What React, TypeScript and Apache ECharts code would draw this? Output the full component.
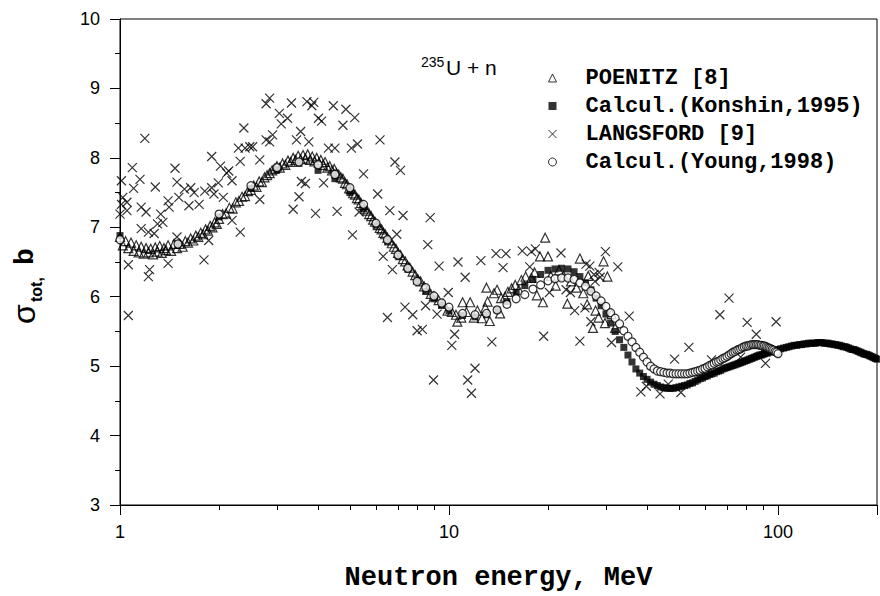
import { useEffect, useRef } from 'react';
import * as echarts from 'echarts';

// ---------- data ----------
const xLabelValues = [1, 10, 100];
const xMinorTicks = [2, 3, 4, 5, 6, 7, 8, 9, 20, 30, 40, 50, 60, 70, 80, 90, 200];

const konshinEnergy = [
  1, 1.5, 2, 2.5, 3, 3.5, 4, 4.5, 5, 5.5, 6, 6.5, 7, 7.5, 8, 8.5, 9, 9.5, 10,
  11, 12, 13, 14, 15, 16, 17, 18, 19, 20,
  21, 22, 23, 24, 25, 26, 27, 28, 29, 30,
  31, 32, 33, 34, 35, 36, 37, 38, 39, 40,
  41, 42, 43, 44, 45, 46, 47, 48, 49, 50,
  51, 52, 53, 54, 55, 56, 57, 58, 59, 60,
  61, 62, 63, 64, 65, 66, 67, 68, 69, 70,
  71, 72, 73, 74, 75, 76, 77, 78, 79, 80,
  81, 82, 83, 84, 85, 86, 87, 88, 89, 90,
  91, 92, 93, 94, 95, 96, 97, 98, 99, 100,
  102, 104, 106, 108, 110, 112, 114, 116, 118, 120,
  122, 124, 126, 128, 130, 132, 134, 136, 138, 140,
  142, 144, 146, 148, 150, 152, 154, 156, 158, 160,
  162, 164, 166, 168, 170, 172, 174, 176, 178, 180,
  182, 184, 186, 188, 190, 192, 194, 196, 198, 200,
];
const konshinSigma = [
  6.88, 6.76, 7.15, 7.56, 7.83, 7.92, 7.82, 7.7, 7.5, 7.27, 7.03, 6.8, 6.59, 6.4, 6.23, 6.08, 5.97, 5.88, 5.8,
  5.73, 5.71, 5.74, 5.81, 5.93, 6.06, 6.16, 6.25, 6.32, 6.38,
  6.4, 6.41, 6.4, 6.36, 6.29, 6.2, 6.1, 5.98, 5.87, 5.75,
  5.62, 5.5, 5.38, 5.27, 5.16, 5.06, 4.96, 4.9, 4.85, 4.81,
  4.77, 4.74, 4.72, 4.7, 4.69, 4.68, 4.68, 4.68, 4.69, 4.7,
  4.71, 4.72, 4.73, 4.75, 4.76, 4.78, 4.8, 4.82, 4.83, 4.85,
  4.86, 4.88, 4.89, 4.9, 4.92, 4.93, 4.94, 4.96, 4.97, 4.98,
  4.99, 5.0, 5.01, 5.02, 5.03, 5.04, 5.05, 5.06, 5.07, 5.08,
  5.09, 5.1, 5.11, 5.12, 5.13, 5.14, 5.15, 5.16, 5.16, 5.17,
  5.18, 5.19, 5.19, 5.2, 5.21, 5.21, 5.22, 5.23, 5.23, 5.24,
  5.25, 5.26, 5.27, 5.28, 5.29, 5.3, 5.3, 5.31, 5.31, 5.32,
  5.32, 5.33, 5.33, 5.33, 5.33, 5.34, 5.34, 5.34, 5.33, 5.33,
  5.33, 5.32, 5.32, 5.31, 5.31, 5.3, 5.3, 5.29, 5.28, 5.28,
  5.27, 5.26, 5.25, 5.24, 5.24, 5.23, 5.22, 5.21, 5.2, 5.19,
  5.18, 5.17, 5.17, 5.16, 5.15, 5.14, 5.13, 5.12, 5.11, 5.1,
];

const youngEnergy = [
  1, 1.5, 2, 2.5, 3, 3.5, 4, 4.5, 5, 5.5, 6, 6.5, 7, 7.5, 8, 8.5, 9, 9.5, 10,
  11, 12, 13, 14, 15, 16, 17, 18, 19, 20,
  21, 22, 23, 24, 25, 26, 27, 28, 29, 30,
  31, 32, 33, 34, 35, 36, 37, 38, 39, 40,
  41, 42, 43, 44, 45, 46, 47, 48, 49, 50,
  51, 52, 53, 54, 55, 56, 57, 58, 59, 60,
  61, 62, 63, 64, 65, 66, 67, 68, 69, 70,
  71, 72, 73, 74, 75, 76, 77, 78, 79, 80,
  81, 82, 83, 84, 85, 86, 87, 88, 89, 90,
  91, 92, 93, 94, 95, 96, 97, 98, 99, 100,
];
const youngSigma = [
  6.82, 6.76, 7.19, 7.6, 7.86, 7.94, 7.9, 7.76, 7.57, 7.33, 7.06, 6.82, 6.6, 6.41, 6.22, 6.13, 6.01, 5.91, 5.85,
  5.76, 5.74, 5.76, 5.81, 5.89, 5.97, 6.03, 6.11, 6.17, 6.23,
  6.26, 6.27, 6.27, 6.25, 6.2, 6.15, 6.08, 6.01, 5.94, 5.86,
  5.77, 5.69, 5.61, 5.51, 5.43, 5.35, 5.27, 5.2, 5.13, 5.06,
  5.0, 4.96, 4.93, 4.92, 4.91, 4.9, 4.9, 4.89, 4.89, 4.89,
  4.89, 4.89, 4.89, 4.9, 4.91, 4.92, 4.93, 4.94, 4.96, 4.97,
  4.99, 5.01, 5.02, 5.04, 5.06, 5.07, 5.09, 5.11, 5.12, 5.14,
  5.16, 5.18, 5.2, 5.21, 5.23, 5.24, 5.25, 5.27, 5.28, 5.29,
  5.29, 5.3, 5.31, 5.31, 5.31, 5.31, 5.31, 5.3, 5.3, 5.29,
  5.29, 5.28, 5.27, 5.26, 5.25, 5.24, 5.23, 5.21, 5.2, 5.18,
];

const poenitzPoints: [number, number][] = [
  [1.0, 6.86], [1.02, 6.74], [1.04, 6.8], [1.06, 6.7], [1.08, 6.78], [1.1, 6.66], [1.12, 6.74], [1.14, 6.64],
  [1.16, 6.72], [1.18, 6.62], [1.2, 6.7], [1.22, 6.64], [1.24, 6.69], [1.26, 6.61], [1.28, 6.71], [1.3, 6.65],
  [1.32, 6.73], [1.34, 6.63], [1.36, 6.7], [1.38, 6.67], [1.4, 6.74], [1.43, 6.66], [1.46, 6.76], [1.49, 6.7],
  [1.52, 6.76], [1.55, 6.72], [1.58, 6.8], [1.61, 6.78], [1.64, 6.84], [1.67, 6.81], [1.7, 6.88], [1.73, 6.86],
  [1.76, 6.92], [1.79, 6.9], [1.82, 6.97], [1.85, 6.95], [1.88, 7.02], [1.91, 7.0], [1.94, 7.07], [1.97, 7.05],
  [2.0, 7.12], [2.05, 7.19], [2.1, 7.2], [2.15, 7.28], [2.2, 7.27], [2.25, 7.36], [2.3, 7.38], [2.35, 7.44],
  [2.4, 7.45], [2.45, 7.52], [2.5, 7.54], [2.55, 7.6], [2.6, 7.58], [2.65, 7.66], [2.7, 7.65], [2.75, 7.72],
  [2.8, 7.75], [2.85, 7.78], [2.9, 7.82], [2.95, 7.84], [3.0, 7.88], [3.06, 7.86], [3.12, 7.92], [3.18, 7.9],
  [3.24, 7.96], [3.3, 7.94], [3.36, 8.0], [3.42, 7.97], [3.48, 8.03], [3.54, 7.98], [3.6, 8.04], [3.66, 7.99],
  [3.72, 8.05], [3.78, 7.97], [3.84, 8.02], [3.9, 7.95], [3.96, 8.0], [4.02, 7.93], [4.08, 7.97], [4.14, 7.9],
  [4.2, 7.94], [4.27, 7.86], [4.34, 7.88], [4.41, 7.82], [4.48, 7.84], [4.55, 7.78], [4.62, 7.76], [4.69, 7.72],
  [4.76, 7.7], [4.83, 7.64], [4.9, 7.62], [4.97, 7.56], [5.04, 7.55], [5.11, 7.49], [5.18, 7.47], [5.25, 7.42],
  [5.32, 7.4], [5.4, 7.35], [5.48, 7.32], [5.56, 7.27], [5.64, 7.24], [5.72, 7.19], [5.8, 7.16], [5.88, 7.11],
  [5.96, 7.08], [6.08, 7.03], [6.16, 6.99], [6.24, 6.97], [6.32, 6.92], [6.4, 6.9], [6.5, 6.85], [6.6, 6.81],
  [6.7, 6.77], [6.8, 6.72], [6.9, 6.69], [7.0, 6.63], [7.12, 6.6], [7.24, 6.54], [7.36, 6.51], [7.48, 6.45],
  [7.6, 6.42], [7.75, 6.36], [7.9, 6.31], [8.05, 6.25], [8.2, 6.22], [8.4, 6.15], [8.6, 6.1], [8.8, 6.04],
  [9.0, 6.01], [9.3, 5.95], [9.6, 5.9], [9.9, 5.8], [10.2, 5.78], [10.5, 5.74], [10.6, 5.64], [10.9, 5.7],
  [11.0, 5.92], [11.3, 5.78], [11.6, 5.92], [11.9, 5.7], [12.2, 5.8], [12.6, 5.69], [12.9, 5.84], [13.0, 6.13],
  [13.1, 5.93], [13.3, 5.65], [13.7, 6.05], [14.0, 6.1], [14.3, 5.76], [14.4, 5.98], [14.8, 6.0], [15.1, 6.07],
  [15.5, 6.12], [15.9, 6.17], [16.3, 6.1], [16.6, 6.24], [17.1, 6.29], [17.8, 6.27], [18.2, 6.35], [18.5, 6.02],
  [18.9, 6.58], [19.3, 5.92], [19.6, 6.85], [20.0, 6.58], [20.4, 6.3], [21.1, 6.16], [21.6, 6.38], [22.3, 6.3],
  [22.9, 5.9], [23.5, 6.22], [24.4, 6.13], [25.0, 6.55], [25.6, 6.05], [26.3, 5.89], [26.5, 6.3], [27.4, 5.55],
  [27.9, 5.8], [28.5, 5.7], [29.5, 6.51], [29.8, 5.62], [30.3, 6.29], [31.2, 5.75], [32.0, 5.55],
];

const langsfordPoints: [number, number][] = [
  [1.0, 7.19], [1.01, 7.67], [1.02, 7.43], [1.01, 7.33], [1.05, 7.36], [1.05, 7.24], [1.06, 6.46], [1.06, 5.73],
  [1.09, 7.86], [1.1, 7.56], [1.15, 7.69], [1.16, 7.29], [1.16, 6.98], [1.19, 8.28], [1.2, 7.22], [1.22, 6.93],
  [1.22, 6.29], [1.23, 6.39], [1.27, 6.91], [1.28, 7.58], [1.3, 7.05], [1.33, 7.19], [1.35, 7.07], [1.4, 7.38],
  [1.4, 6.48], [1.41, 7.29], [1.47, 7.85], [1.49, 7.65], [1.49, 6.86], [1.51, 7.43], [1.57, 7.55], [1.62, 7.31],
  [1.64, 7.57], [1.68, 7.5], [1.74, 7.33], [1.8, 6.53], [1.81, 7.52], [1.86, 6.81], [1.9, 7.57], [1.9, 8.02],
  [1.93, 7.48], [1.99, 7.64], [2.02, 7.88], [2.06, 7.43], [2.11, 7.78], [2.14, 7.81], [2.19, 7.67], [2.19, 7.1],
  [2.29, 8.14], [2.32, 6.93], [2.32, 7.95], [2.38, 8.43], [2.4, 8.14], [2.48, 8.16], [2.53, 8.16], [2.66, 7.97],
  [2.66, 7.4], [2.78, 8.78], [2.85, 8.86], [2.78, 8.26], [2.85, 8.23], [2.91, 8.33], [3.05, 8.64], [3.09, 8.49],
  [3.23, 8.57], [3.32, 8.79], [3.36, 7.26], [3.44, 8.26], [3.5, 7.44], [3.54, 8.38], [3.56, 7.66], [3.66, 7.63],
  [3.7, 8.81], [3.75, 8.23], [3.83, 8.75], [3.88, 8.8], [3.93, 7.2], [4.01, 8.57], [4.1, 8.53], [4.16, 7.64],
  [4.3, 8.14], [4.45, 8.75], [4.5, 8.14], [4.57, 7.23], [4.76, 8.47], [4.86, 8.7], [5.05, 8.14], [5.09, 6.89],
  [5.17, 8.58], [5.27, 8.2], [5.33, 7.22], [5.5, 7.77], [6.07, 7.48], [6.17, 8.26], [6.31, 6.58], [6.5, 5.7],
  [6.61, 7.24], [6.73, 6.39], [6.85, 7.94], [6.94, 6.9], [7.12, 7.82], [7.25, 7.17], [7.35, 5.85], [7.76, 5.74],
  [8.0, 5.51], [8.3, 5.53], [8.49, 5.87], [8.62, 6.75], [8.77, 7.14], [8.97, 4.8], [9.2, 5.75], [9.33, 6.44],
  [9.95, 6.06], [10.2, 5.3], [10.4, 5.46], [10.65, 6.5], [11.2, 6.28], [11.4, 4.8], [11.7, 4.61], [12.0, 4.97],
  [12.5, 6.52], [13.5, 5.35], [13.9, 6.62], [14.6, 6.42], [14.9, 6.62], [16.7, 6.66], [17.6, 6.43], [17.8, 6.65],
  [18.3, 6.69], [19.4, 5.43], [20.2, 6.06], [21.9, 6.63], [22.7, 6.1], [23.4, 6.06], [24.1, 5.8], [25.0, 5.36],
  [25.9, 5.84], [26.1, 6.47], [26.8, 6.44], [27.0, 5.64], [27.6, 6.32], [27.8, 6.22], [28.6, 6.35], [28.8, 6.28],
  [29.9, 6.65], [31.2, 5.34], [32.6, 6.43], [35.3, 5.72], [38.3, 4.63], [39.8, 4.71], [43.8, 4.6], [46.4, 4.74],
  [48.5, 5.1], [50.7, 4.62], [53.6, 5.27], [62.8, 5.09], [66.6, 5.74], [71.0, 5.98], [77.0, 5.13], [80.6, 5.63],
  [85.9, 5.46], [91.6, 5.04], [98.7, 5.64],
];

const CROSS = 'path://M0,0L10,10M10,0L0,10';
const BLACK = '#000';

export default function App() {
  const ref = useRef<HTMLDivElement | null>(null);

  useEffect(() => {
    if (!ref.current) return;
    const chart = echarts.init(ref.current, undefined, { renderer: 'svg' });

    const konshinData = konshinEnergy.map((e, i) => [e, konshinSigma[i]]);
    const youngData = youngEnergy.map((e, i) => [e, youngSigma[i]]);

    const option: any = {
      animation: false,
      backgroundColor: '#fff',
      grid: {
        left: 120,
        top: 19,
        width: 768.5,
        height: 493,
        show: true,
        borderColor: BLACK,
        borderWidth: 1,
        backgroundColor: 'transparent',
      },
      legend: {
        orient: 'vertical',
        left: 543,
        top: 62,
        itemWidth: 8,
        itemHeight: 8,
        itemGap: 6,
        selectedMode: false,
        textStyle: {
          fontFamily: 'Liberation Mono',
          fontWeight: 'bold',
          fontSize: 22,
          color: BLACK,
          padding: [0, 0, 0, 24],
        },
        data: [
          { name: 'POENITZ [8]', icon: 'triangle', itemStyle: { color: 'transparent', borderColor: BLACK, borderWidth: 1 } },
          { name: 'Calcul.(Konshin,1995)', icon: 'rect', itemStyle: { color: BLACK, borderWidth: 0 } },
          { name: 'LANGSFORD [9]', icon: CROSS, itemStyle: { color: 'transparent', borderColor: BLACK, borderWidth: 1 } },
          { name: 'Calcul.(Young,1998)', icon: 'circle', itemStyle: { color: '#fff', borderColor: BLACK, borderWidth: 1 } },
        ],
      },
      xAxis: {
        type: 'log',
        logBase: 10,
        min: 1,
        max: 200,
        axisLine: { show: true, onZero: false, lineStyle: { color: BLACK, width: 1 } },
        axisTick: { show: true, inside: false, length: 10, lineStyle: { color: BLACK, width: 1 } },
        splitLine: { show: false },
        axisLabel: {
          color: BLACK,
          fontFamily: 'Liberation Sans',
          fontSize: 18,
          margin: 18,
          formatter: (v: number) => {
            const r = Math.round(v);
            return xLabelValues.includes(r) && Math.abs(v - r) < 1e-6 ? String(r) : '';
          },
        },
        name: 'Neutron energy, MeV',
        nameLocation: 'middle',
        nameGap: 59,
        nameTextStyle: { fontFamily: 'Liberation Mono', fontWeight: 'bold', fontSize: 27, color: BLACK },
      },
      yAxis: {
        type: 'value',
        min: 3,
        max: 10,
        interval: 1,
        axisLine: { show: true, onZero: false, lineStyle: { color: BLACK, width: 1 } },
        axisTick: { show: true, inside: false, length: 10, lineStyle: { color: BLACK, width: 1 } },
        minorTick: { show: true, splitNumber: 2, length: 5, lineStyle: { color: BLACK, width: 1 } },
        splitLine: { show: false },
        minorSplitLine: { show: false },
        axisLabel: { color: BLACK, fontFamily: 'Liberation Sans', fontSize: 18, margin: 20 },
      },
      series: [
        {
          name: 'POENITZ [8]',
          type: 'scatter',
          symbol: 'triangle',
          symbolSize: 9,
          itemStyle: { color: 'transparent', borderColor: BLACK, borderWidth: 1.2 },
          emphasis: { disabled: true },
          data: poenitzPoints,
        },
        {
          name: 'Calcul.(Konshin,1995)',
          type: 'scatter',
          symbol: 'rect',
          symbolSize: 7,
          itemStyle: { color: BLACK },
          emphasis: { disabled: true },
          data: konshinData,
        },
        {
          name: 'LANGSFORD [9]',
          type: 'scatter',
          symbol: CROSS,
          symbolSize: 9,
          itemStyle: { color: 'transparent', borderColor: BLACK, borderWidth: 1.2 },
          emphasis: { disabled: true },
          data: langsfordPoints,
        },
        {
          name: 'Calcul.(Young,1998)',
          type: 'scatter',
          symbol: 'circle',
          symbolSize: 8,
          itemStyle: { color: '#fff', borderColor: BLACK, borderWidth: 1.2 },
          emphasis: { disabled: true },
          data: youngData,
        },
      ],
    };

    chart.setOption(option);

    const yBottom = chart.convertToPixel({ yAxisIndex: 0 } as any, 3) as number;
    const minorLines = xMinorTicks.map((v) => {
      const x = Math.round(chart.convertToPixel({ xAxisIndex: 0 } as any, v) as number) + 0.5;
      return {
        type: 'line',
        silent: true,
        shape: { x1: x, y1: yBottom, x2: x, y2: yBottom + 5 },
        style: { stroke: BLACK, lineWidth: 1 },
      };
    });

    const texts: any[] = [
      {
        type: 'text',
        x: 421,
        y: 62,
        style: { text: '235', fontSize: 14, fontFamily: 'Liberation Sans', fill: BLACK, align: 'left', verticalAlign: 'middle' },
      },
      {
        type: 'text',
        x: 446,
        y: 67.5,
        style: { text: 'U + n', fontSize: 21, fontFamily: 'Liberation Sans', fill: BLACK, align: 'left', verticalAlign: 'middle' },
      },
      {
        type: 'group',
        x: 0,
        y: 325,
        rotation: Math.PI / 2,
        children: [
          {
            type: 'text',
            x: 1,
            y: 24,
            style: { text: 'σ', fontSize: 32, fontFamily: 'Liberation Sans', fill: BLACK, align: 'left', verticalAlign: 'middle' },
          },
          {
            type: 'text',
            x: 23,
            y: 36.5,
            style: { text: 'tot,', fontSize: 16, fontWeight: 'bold', fontFamily: 'Liberation Sans', fill: BLACK, align: 'left', verticalAlign: 'middle' },
          },
          {
            type: 'text',
            x: 68.5,
            y: 25.5,
            style: { text: 'b', fontSize: 28, fontWeight: 'bold', fontFamily: 'Liberation Mono', fill: BLACK, align: 'center', verticalAlign: 'middle' },
          },
        ],
      },
    ];

    chart.setOption({ graphic: [...texts, ...minorLines] });

    return () => chart.dispose();
  }, []);

  return <div ref={ref} style={{ position: 'absolute', left: 0, top: 0, width: 880, height: 596 }} />;
}
